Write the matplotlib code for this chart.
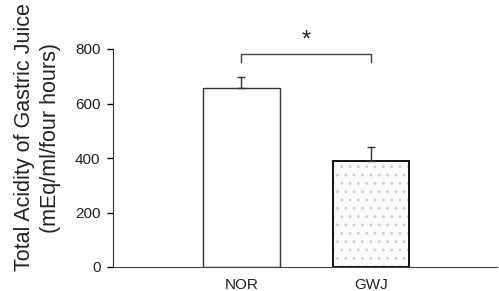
import matplotlib.pyplot as plt
import numpy as np

plt.rcParams['font.family'] = ['Liberation Sans', 'DejaVu Sans']
plt.rcParams['hatch.linewidth'] = 0.8

groups = ['NOR', 'GWJ']
means = [657, 389]
errs = [40, 51]
yticks = [0, 200, 400, 600, 800]

fig = plt.figure(figsize=(4.99, 2.91), dpi=100)
ax = fig.add_axes([113 / 499, (291 - 267) / 291, (497 - 113) / 499, (267 - 49) / 291])

x = np.arange(len(groups))
w = 0.59

# NOR plain white bar
ax.bar(x[0], means[0], width=w, color='white', edgecolor='#333333', linewidth=1.0, zorder=2)
# GWJ stippled bar: dotted hatch in light gray, then black outline on top
ax.bar(x[1], means[1], width=w, color='#fbfbfb', edgecolor='#d0d0d0', hatch='..', linewidth=0, zorder=2)
ax.bar(x[1], means[1], width=w, fill=False, edgecolor='#111111', linewidth=1.4, zorder=3)

# upper error bars only
ax.errorbar(x, means, yerr=[[0, 0], errs], fmt='none', ecolor='#333333',
            elinewidth=1.0, capsize=3, capthick=1.0, zorder=4)

# significance bracket
by, drop = 783, 30
ax.plot([x[0], x[0], x[1], x[1]], [by - drop, by, by, by - drop], color='#444444', lw=1.0, clip_on=False)
ax.text((x[0] + x[1]) / 2, by + 8, '*', ha='center', va='bottom', fontsize=17, color='#222222')

ax.set_xlim(-0.992, 1.973)
ax.set_ylim(0, 800)
ax.set_yticks(yticks)
ax.set_yticklabels([str(v) for v in yticks], fontsize=11, color='#222222')
ax.set_xticks(x)
ax.set_xticklabels(groups, fontsize=11, color='#222222')
ax.tick_params(axis='x', length=0, pad=8)
ax.tick_params(axis='y', length=4, width=1.0, direction='out', pad=5)

for s in ['top', 'right']:
    ax.spines[s].set_visible(False)
ax.spines['left'].set_color('#333333')
ax.spines['bottom'].set_color('#444444')

ax.set_ylabel('Total Acidity of Gastric Juice\n(mEq/ml/four hours)', fontsize=15.5,
              color='#222222', linespacing=1.3)
ax.yaxis.set_label_coords(-0.135, 0.594)

fig.savefig('out.png', dpi=100)
